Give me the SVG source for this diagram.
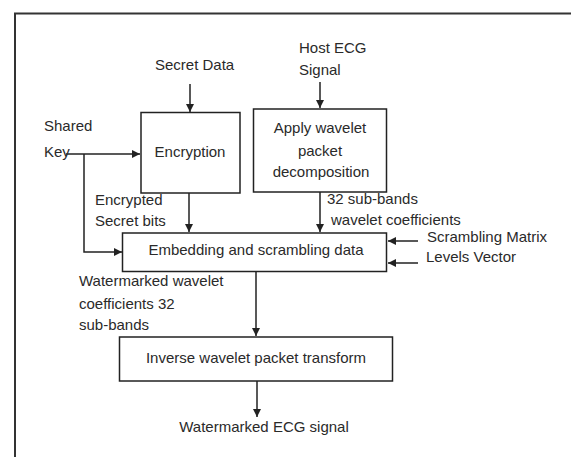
<svg xmlns="http://www.w3.org/2000/svg" width="571" height="457" viewBox="0 0 571 457">
<defs>
<marker id="ah" viewBox="0 0 10 10" refX="10" refY="5" markerWidth="8" markerHeight="8" markerUnits="userSpaceOnUse" orient="auto">
<path d="M0,0 L10,5 L0,10 Z" fill="#222"/>
</marker>
</defs>
<style>
text{font-family:"Liberation Sans",Arial,sans-serif;font-size:15px;fill:#2a2a2a}
.box{fill:#fff;stroke:#222;stroke-width:1.5}
.c{fill:none;stroke:#222;stroke-width:1.5}
.a{marker-end:url(#ah)}
.m{text-anchor:middle}
</style>
<rect width="571" height="457" fill="#fff"/>
<polyline points="15,457 15,13.5 571,13.5" fill="none" stroke="#333" stroke-width="2"/>
<g id="connectors">
<line class="c a" x1="190" y1="84" x2="190" y2="112"/>
<line class="c a" x1="320" y1="82" x2="320" y2="108"/>
<line class="c a" x1="66" y1="154" x2="140" y2="154"/>
<polyline class="c a" points="84,154 84,252 122,252"/>
<line class="c a" x1="189" y1="193" x2="189" y2="232"/>
<line class="c a" x1="320" y1="192" x2="320" y2="232"/>
<line class="c a" x1="418" y1="241" x2="388" y2="241"/>
<line class="c a" x1="418" y1="263" x2="388" y2="263"/>
<line class="c a" x1="256" y1="272" x2="256" y2="336"/>
<line class="c a" x1="257" y1="381" x2="257" y2="417"/>
</g>
<g id="encryption">
<rect class="box" x="141" y="112.5" width="99" height="80.5"/>
<text class="m" x="190" y="157">Encryption</text>
</g>
<g id="wavelet-decomp">
<rect class="box" x="253.5" y="109" width="133" height="83"/>
<text class="m" x="320" y="133">Apply wavelet</text>
<text class="m" x="320" y="156">packet</text>
<text class="m" x="321" y="177">decomposition</text>
</g>
<g id="embedding">
<rect class="box" x="122.5" y="233" width="264" height="38.5"/>
<text class="m" x="256" y="255">Embedding and scrambling data</text>
</g>
<g id="inverse">
<rect class="box" x="119.5" y="337" width="273" height="44"/>
<text class="m" x="256" y="363">Inverse wavelet packet transform</text>
</g>
<g id="labels">
<text x="155" y="70">Secret Data</text>
<text x="299" y="53">Host ECG</text>
<text x="299" y="75">Signal</text>
<text x="44" y="131">Shared</text>
<text x="44" y="157">Key</text>
<text x="95" y="205">Encrypted</text>
<text x="95" y="226">Secret bits</text>
<text x="327" y="204">32 sub-bands</text>
<text x="331" y="225">wavelet coefficients</text>
<text x="427" y="242">Scrambling Matrix</text>
<text x="426" y="262">Levels Vector</text>
<text x="79" y="286">Watermarked wavelet</text>
<text x="79" y="309">coefficients 32</text>
<text x="79" y="330">sub-bands</text>
<text class="m" x="264" y="432">Watermarked ECG signal</text>
</g>
</svg>
